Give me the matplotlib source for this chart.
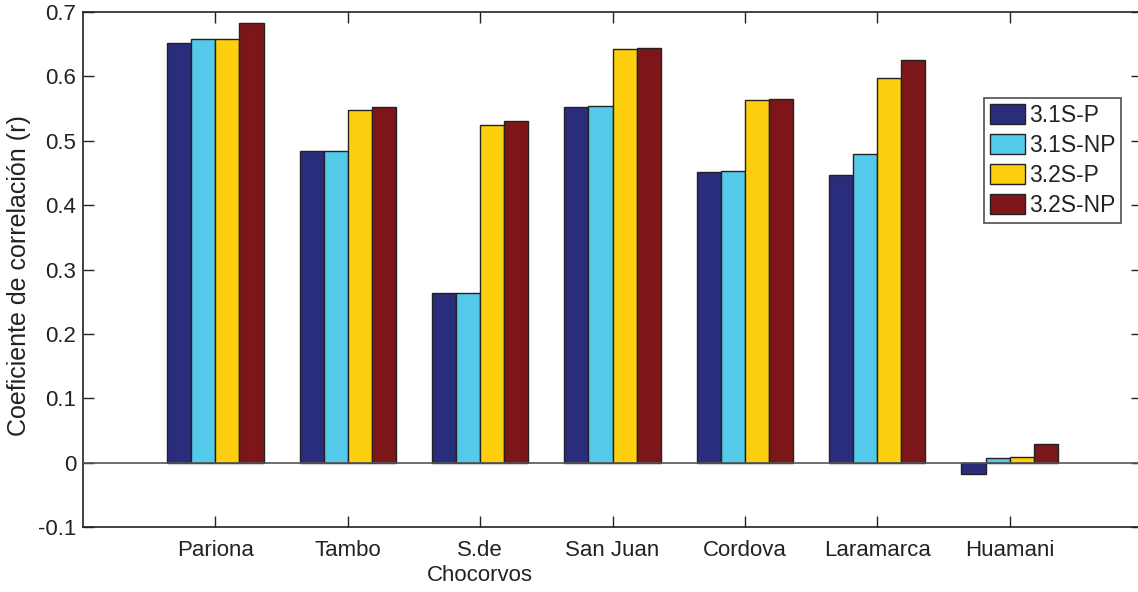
import numpy as np
import matplotlib
matplotlib.use("Agg")
import matplotlib.pyplot as plt

plt.rcParams['font.family'] = ['Liberation Sans', 'DejaVu Sans']

stations = ["Pariona", "Tambo", "S.de\nChocorvos", "San Juan", "Cordova", "Laramarca", "Huamani"]
series_names = ["3.1S-P", "3.1S-NP", "3.2S-P", "3.2S-NP"]

r_31s_p = [0.652, 0.484, 0.264, 0.552, 0.451, 0.447, -0.018]
r_31s_np = [0.658, 0.484, 0.264, 0.554, 0.453, 0.480, 0.007]
r_32s_p = [0.658, 0.547, 0.524, 0.642, 0.564, 0.597, 0.008]
r_32s_np = [0.683, 0.553, 0.530, 0.644, 0.565, 0.625, 0.029]

colors = ["#2A2C7C", "#55C9EA", "#FDCF0F", "#7C1618"]

fig = plt.figure(figsize=(11.38, 5.92), dpi=100)
ax = fig.add_axes([83 / 1138, 65 / 592, 1059 / 1138, 515 / 592])

x = np.arange(1, len(stations) + 1)
series = [r_31s_p, r_31s_np, r_32s_p, r_32s_np]
n = len(series)
group_w = min(0.8, n / (n + 1.5))
bar_w = group_w / n
for i, (vals, name, c) in enumerate(zip(series, series_names, colors)):
    ax.bar(x + (i - (n - 1) / 2) * bar_w, vals, width=bar_w, color=c,
           edgecolor="#222222", linewidth=1.0, label=name, zorder=2)

ax.axhline(0, color="#555555", linewidth=1.2, zorder=3)

ax.set_xlim(0, 8)
ax.set_ylim(-0.1, 0.7)
ax.set_xticks(x)
ax.set_xticklabels(stations, fontsize=16, color="#222222", linespacing=1.3)
ax.set_yticks(np.round(np.arange(-0.1, 0.71, 0.1), 1))
ax.set_yticklabels(["-0.1", "0", "0.1", "0.2", "0.3", "0.4", "0.5", "0.6", "0.7"],
                   fontsize=16, color="#222222")
ax.tick_params(direction="in", length=8, width=1, top=True, right=True,
               color="#222222")
ax.tick_params(axis="x", pad=9)
ax.tick_params(axis="y", pad=5)
for s in ax.spines.values():
    s.set_linewidth(1.2)
    s.set_color("#222222")

ax.set_ylabel("Coeficiente de correlación (r)", fontsize=18, color="#222222")
ax.yaxis.set_label_coords(-0.049, 0.489)

leg = ax.legend(loc="upper right", bbox_to_anchor=(1121 / 1138, 1 - 98 / 592),
                bbox_transform=fig.transFigure, fontsize=16.5, frameon=True,
                fancybox=False, shadow=False, handlelength=1.55,
                handleheight=1.0, handletextpad=0.15, labelspacing=0.3,
                borderpad=0.25, borderaxespad=0)
leg.get_frame().set_edgecolor("#222222")
leg.get_frame().set_linewidth(1.2)
for t in leg.get_texts():
    t.set_color("#222222")

fig.savefig("out.png", dpi=100)
